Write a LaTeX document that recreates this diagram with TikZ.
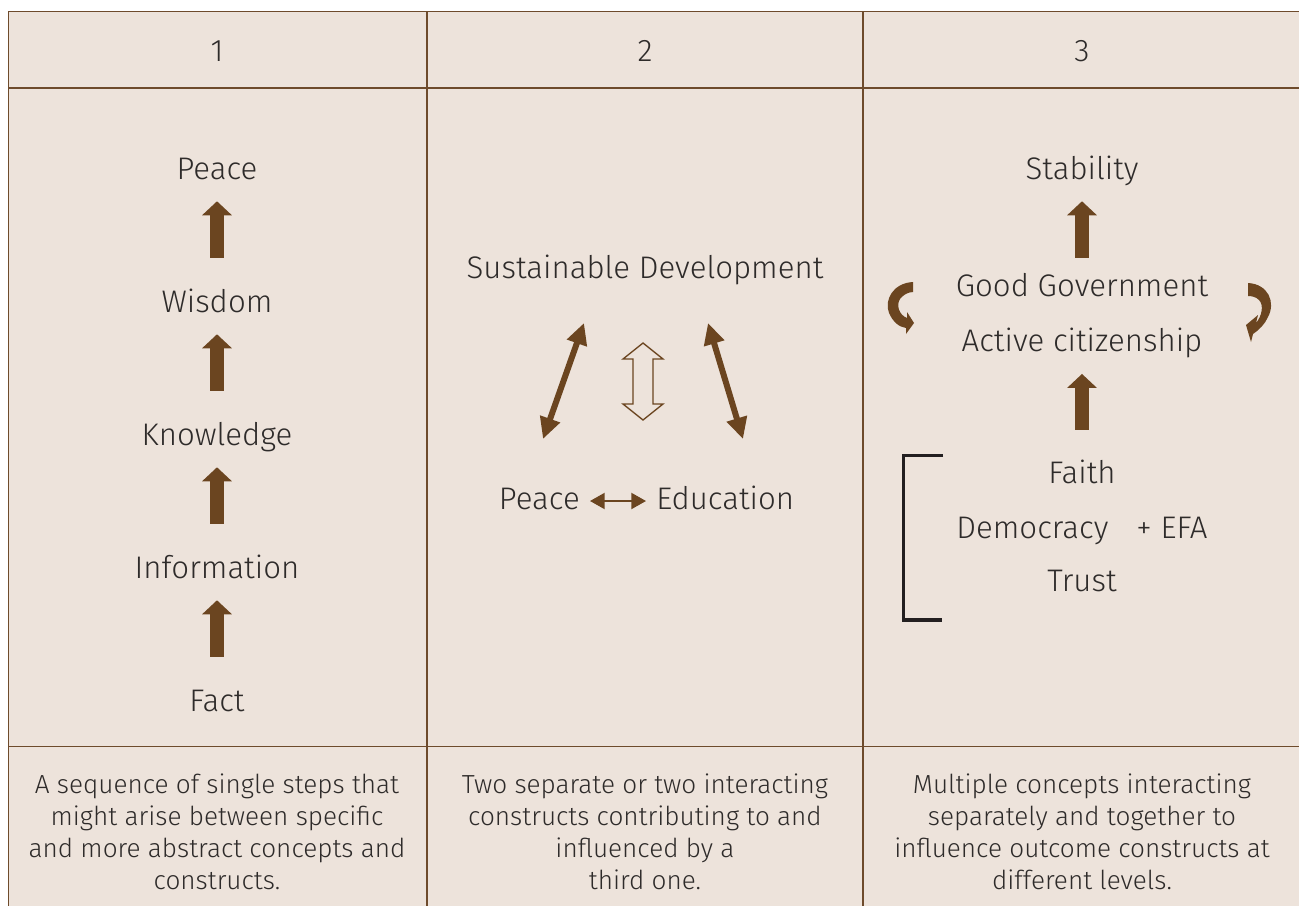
\documentclass[tikz,border=0pt]{standalone}
\usepackage{fontspec}
\setmainfont{Fira Sans Light}
\usetikzlibrary{arrows.meta,calc}
\definecolor{bg}{HTML}{EDE3DB}
\definecolor{rulec}{HTML}{6E4B2C}
\definecolor{brn}{HTML}{6B4520}
\definecolor{txt}{HTML}{2E2B2A}
\definecolor{brk}{HTML}{231F20}
\begin{document}
\begin{tikzpicture}[x=0.75pt,y=-0.75pt,
  lbl/.style={font=\fontsize{23.4}{28}\selectfont, text=txt, inner sep=0pt, anchor=base, text height=17pt, text depth=5pt},
  desc/.style={font=\fontsize{19.6}{24}\selectfont, text=txt, align=center, inner sep=0pt, anchor=north},
  gridline/.style={draw=rulec, line width=1.2pt},
  uparrow/.style={draw=brn, line width=10.5pt, -{Triangle[length=10.5pt,width=21.75pt]}, shorten <=23.5pt, shorten >=11.5pt},
  dblarrow/.style={draw=brn, line width=4.5pt, {Triangle[length=16pt,width=15pt]}-{Triangle[length=16pt,width=15pt]}},
  lrarrow/.style={draw=brn, line width=1.5pt, {Triangle[length=11pt,width=12pt]}-{Triangle[length=11pt,width=12pt]}},
  hollow/.style={draw=brn, line width=1pt, fill=bg},
  curl/.style={fill=brn, draw=none},
  bracket/.style={draw=brk, line width=2.4pt}
]
\useasboundingbox (0,0) rectangle (1299,906);
\fill[bg] (8.5,11.5) rectangle (1299,906);
% grid
\draw[gridline] (1299,11.5) -- (8.5,11.5) -- (8.5,906);
\draw[gridline] (8.5,88) -- (1299,88);
\draw[gridline] (8.5,746.5) -- (1299,746.5);
\draw[gridline] (427,11.5) -- (427,906);
\draw[gridline] (863,11.5) -- (863,906);
% headers
\node[lbl] (h1) at (217,62) {1};
\node[lbl] (h2) at (645,62) {2};
\node[lbl] (h3) at (1082,62) {3};
% column 1
\node[lbl] (peace1) at (217,179) {Peace};
\node[lbl] (wisdom) at (217,312) {Wisdom};
\node[lbl] (knowledge) at (217,445) {Knowledge};
\node[lbl] (information) at (217,578) {Information};
\node[lbl] (fact) at (217,711) {Fact};
\draw[uparrow] (wisdom) -- (peace1);
\draw[uparrow] (knowledge) -- (wisdom);
\draw[uparrow] (information) -- (knowledge);
\draw[uparrow] (fact) -- (information);
% column 2
\node[lbl] (sd) at (645,278) {Sustainable Development};
\node[lbl, anchor=base east] (peace2) at (580,509) {Peace};
\node[lbl, anchor=base west] (edu) at (656,509) {Education};
\draw[lrarrow, shorten <=7.5pt, shorten >=7.5pt] (peace2.east) -- (edu.west);
\coordinate (la) at (584,323);
\coordinate (lb) at (543,439);
\coordinate (ra) at (708,323);
\coordinate (rb) at (743,439);
\draw[dblarrow] (lb) -- (la);
\draw[dblarrow] (rb) -- (ra);
\draw[hollow] (643,343) -- (663,359) -- (653,359) -- (653,404) -- (663,404) -- (643,420)
  -- (623,404) -- (633,404) -- (633,359) -- (623,359) -- cycle;
% column 3
\node[lbl] (stability) at (1082,179) {Stability};
\node[lbl] (goodgov) at (1082,296) {Good Government};
\node[lbl] (active) at (1082,351) {Active citizenship};
\node[lbl] (faith) at (1082,483) {Faith};
\node[lbl] (democracy) at (1082,538) {Democracy\hspace{0.9em}+ EFA};
\node[lbl] (trust) at (1082,591) {Trust};
\draw[uparrow, shorten <=11.5pt] (goodgov) -- (stability);
\draw[uparrow, shorten <=22.75pt, shorten >=12pt] (faith) -- (active);
\fill[curl] (913,282) .. controls (893,283) and (884,300) .. (889,313)
  .. controls (893,322) and (899,327) .. (906,328) -- (906,334) -- (914,323) -- (907,312) -- (907,318)
  .. controls (899,315) and (896,305) .. (900,299) .. controls (903,295) and (908,292) .. (913,292) -- cycle;
\fill[curl] (1248,283) .. controls (1268,284) and (1276,302) .. (1268,317)
  .. controls (1265,324) and (1259,330) .. (1253,334) -- (1251,342) -- (1246,325) -- (1258,315) -- (1256,323)
  .. controls (1262,316) and (1264,305) .. (1259,300) .. controls (1256,297) and (1252,296) .. (1248,296) -- cycle;
\draw[bracket] (943,455.5) -- (903.5,455.5) -- (903.5,620) -- (942,620);
% descriptions
\node[desc] (d1) at (217,774) {A sequence of single steps that\\might arise between specific\\and more abstract concepts and\\constructs.};
\node[desc] (d2) at (645,774) {Two separate or two interacting\\constructs contributing to and\\influenced by a\\third one.};
\node[desc] (d3) at (1082,774) {Multiple concepts interacting\\separately and together to\\influence outcome constructs at\\different levels.};
\end{tikzpicture}
\end{document}
